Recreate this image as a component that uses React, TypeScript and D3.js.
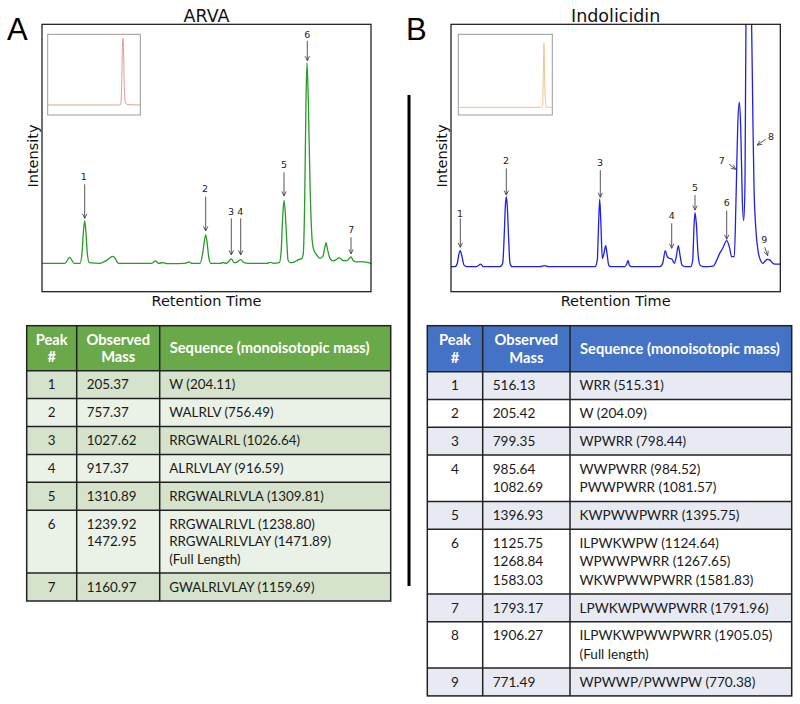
import React from 'react';
import * as d3 from 'd3';

type Pt = [number, number];

// ARVA chromatogram: [retention time, relative intensity]
const arvaTrace: Pt[] = [
  [0, 0], [2.3, 0], [2.77, 3], [3.2, 0], [3.8, 0], [4.0, 5], [4.13, 15], [4.27, 21.3], [4.4, 15], [4.53, 5],
  [4.73, 0.3], [5.8, 0], [6.53, 1.7], [7.07, 3.5], [7.33, 2.5], [7.63, 0], [10.97, 0], [11.37, 1.2], [11.63, 0],
  [12.13, 0.3], [12.47, -0.2], [14.3, 0], [14.7, 0.7], [14.97, 0], [15.8, 0], [16.07, 5], [16.23, 10.8],
  [16.37, 14.2], [16.5, 10.8], [16.67, 3.3], [16.87, 0], [17.8, 0], [18.13, 0.3], [18.47, 0], [18.93, 2.2],
  [19.23, 0.3], [19.47, 0.5], [19.87, 1.8], [20.2, 0.3], [20.63, 0], [22.47, 0], [22.87, 0.5], [23.13, 0],
  [23.73, 0.3], [23.9, 5], [24.07, 23.3], [24.2, 31.5], [24.33, 25], [24.47, 11.7], [24.6, 1.7], [24.8, 0.3],
  [25.13, 0.5], [25.47, 1.3], [25.7, 2], [25.97, 2.3], [26.13, 5], [26.27, 31.7], [26.4, 81.7], [26.5, 100.3],
  [26.63, 81.7], [26.8, 40], [26.97, 15], [27.13, 7.5], [27.47, 4.2], [27.8, 2.5], [28.07, 3.3], [28.3, 8.3],
  [28.4, 10.3], [28.53, 7.5], [28.8, 2.5], [29.13, 1.2], [29.47, 2], [29.73, 2.8], [30.13, 1.3], [30.47, 1.3],
  [30.9, 3.2], [31.13, 1.3], [31.47, 0.7], [31.8, 0.8], [32.47, 0.5], [32.9, 0],
];
const arvaInset: Pt[] = [
  [0, 0], [76.3, 0], [78.8, 1], [79.9, 32.5], [80.6, 82.5], [81.3, 100], [82, 77.5], [82.7, 27.5], [83.8, 5],
  [85.9, 0.5], [100, 0],
];
// label centre (lx, ly), arrow from (x1, y1) to (x2, y2)
const arvaLabels = [
  { id: '1', lx: 4.17, ly: 43.3, x1: 4.27, y1: 39.5, x2: 4.27, y2: 22.5 },
  { id: '2', lx: 16.3, ly: 37.2, x1: 16.37, y1: 33.3, x2: 16.37, y2: 16.2 },
  { id: '3', lx: 18.9, ly: 25.7, x1: 18.93, y1: 22.5, x2: 18.93, y2: 4.2 },
  { id: '4', lx: 19.83, ly: 25.7, x1: 19.87, y1: 22.5, x2: 19.87, y2: 4.2 },
  { id: '5', lx: 24.2, ly: 49.3, x1: 24.2, y1: 45.5, x2: 24.2, y2: 33.7 },
  { id: '6', lx: 26.53, ly: 114.2, x1: 26.53, y1: 111.3, x2: 26.53, y2: 101.3 },
  { id: '7', lx: 30.93, ly: 17, x1: 30.9, y1: 13, x2: 30.9, y2: 4.7 },
];

// Indolicidin chromatogram
const indoTrace: Pt[] = [
  [0, 0], [0.4, 0], [0.63, 1.7], [0.77, 5.8], [0.93, 8], [1.1, 5], [1.3, 0.8], [1.57, 0], [2.57, 0], [2.97, 1.3],
  [3.23, 0], [4.9, 0], [5.17, 1.7], [5.33, 16.7], [5.43, 30], [5.53, 35], [5.63, 30], [5.77, 13.3], [5.9, 1.7],
  [6.1, 0], [8.9, 0], [9.37, 0.5], [9.73, 0], [14.4, 0], [14.63, 3.3], [14.73, 16.7], [14.87, 33.8], [15, 20],
  [15.13, 4.2], [15.3, 6.7], [15.47, 10.5], [15.6, 6.7], [15.77, 0.8], [15.97, 0], [17.4, 0], [17.57, 1.3],
  [17.7, 3.2], [17.83, 0.8], [18.07, 0], [20.9, 0], [21.17, 1.7], [21.43, 8], [21.63, 5], [21.83, 4.2],
  [22.1, 3.7], [22.33, 1.7], [22.53, 5], [22.73, 10.5], [22.9, 5.8], [23.1, 0.8], [23.4, 0], [23.97, 0],
  [24.17, 3.3], [24.3, 20], [24.4, 27], [24.53, 21.7], [24.7, 6.7], [24.9, 0.8], [25.23, 0], [26.23, 0.3],
  [26.57, 3.3], [26.83, 6.3], [27.17, 9.2], [27.57, 13], [27.83, 10], [28.07, 5], [28.33, 5], [28.5, 33.3],
  [28.67, 70], [28.83, 82.3], [28.97, 70], [29.13, 33.3], [29.27, 23], [29.4, 41.7], [29.5, 125], [29.77, 165],
  [30.05, 125], [30.2, 70], [30.3, 40], [30.47, 20], [30.7, 8], [30.97, 3], [31.17, 1.7], [31.4, 2.8],
  [31.63, 3.7], [31.9, 3.3], [32.17, 1.7], [32.4, 1.3], [32.93, 1.3],
];
const indoInset: Pt[] = [
  [0, 0], [87.2, 0], [89.7, 2], [90.4, 50], [91.1, 100], [91.8, 50], [92.9, 5], [94, 0], [100, 0],
];
const indoLabels = [
  { id: '1', lx: 0.9, ly: 26.5, x1: 0.93, y1: 24.2, x2: 0.93, y2: 9.7 },
  { id: '2', lx: 5.5, ly: 53.2, x1: 5.53, y1: 49.2, x2: 5.53, y2: 35.8 },
  { id: '3', lx: 14.9, ly: 52.2, x1: 14.93, y1: 48.3, x2: 14.93, y2: 34.7 },
  { id: '4', lx: 22.07, ly: 25.7, x1: 22.07, y1: 21.7, x2: 22.07, y2: 9.2 },
  { id: '5', lx: 24.4, ly: 39.8, x1: 24.4, y1: 35.8, x2: 24.4, y2: 28.3 },
  { id: '6', lx: 27.57, ly: 32.2, x1: 27.57, y1: 28, x2: 27.57, y2: 13.7 },
  { id: '7', lx: 27.07, ly: 53, x1: 27.83, y1: 51.2, x2: 28.47, y2: 48.7 },
  { id: '8', lx: 32, ly: 65, x1: 31.47, y1: 63.7, x2: 30.63, y2: 60.8 },
  { id: '9', lx: 31.33, ly: 13.7, x1: 31.37, y1: 9.7, x2: 31.67, y2: 5.5 },
];

// Tables
const arvaPeaks = ['1', '2', '3', '4', '5', '6', '7'];
const arvaMasses = [['205.37'], ['757.37'], ['1027.62'], ['917.37'], ['1310.89'], ['1239.92', '1472.95'], ['1160.97']];
const arvaSeqs = [
  ['W (204.11)'], ['WALRLV (756.49)'], ['RRGWALRL (1026.64)'], ['ALRLVLAY (916.59)'], ['RRGWALRLVLA (1309.81)'],
  ['RRGWALRLVL (1238.80)', 'RRGWALRLVLAY (1471.89)', '(Full Length)'], ['GWALRLVLAY (1159.69)'],
];
const indoPeaks = ['1', '2', '3', '4', '5', '6', '7', '8', '9'];
const indoMasses = [
  ['516.13'], ['205.42'], ['799.35'], ['985.64', '1082.69'], ['1396.93'], ['1125.75', '1268.84', '1583.03'],
  ['1793.17'], ['1906.27'], ['771.49'],
];
const indoSeqs = [
  ['WRR (515.31)'], ['W (204.09)'], ['WPWRR (798.44)'], ['WWPWRR (984.52)', 'PWWPWRR (1081.57)'],
  ['KWPWWPWRR (1395.75)'], ['ILPWKWPW (1124.64)', 'WPWWPWRR (1267.65)', 'WKWPWWPWRR (1581.83)'],
  ['LPWKWPWWPWRR (1791.96)'], ['ILPWKWPWWPWRR (1905.05)', '(Full length)'], ['WPWWP/PWWPW (770.38)'],
];
const headers = ['Peak', '#', 'Observed', 'Mass', 'Sequence (monoisotopic mass)'];

const SANS = 'DejaVu Sans, sans-serif';
const TABLE_FONT = 'Lato, sans-serif';

type Label = { id: string; lx: number; ly: number; x1: number; y1: number; x2: number; y2: number };

function Chromatogram(props: {
  id: string; letter: string; letterX: number; title: string; frame: [number, number, number, number];
  xDomain: [number, number]; yDomain: [number, number]; trace: Pt[]; color: string; labels: Label[];
  insetFrame: [number, number, number, number]; insetY: [number, number]; inset: Pt[]; insetColor: string;
  ylabelX: number;
}) {
  const [fx0, fx1, fy0, fy1] = props.frame;
  const x = d3.scaleLinear().domain(props.xDomain).range([fx0, fx1]);
  const y = d3.scaleLinear().domain(props.yDomain).range([fy1, fy0]);
  const line = d3.line<Pt>().x(d => x(d[0])).y(d => y(d[1])).curve(d3.curveMonotoneX);

  const [ix0, ix1, iy0, iy1] = props.insetFrame;
  const ix = d3.scaleLinear().domain([0, 100]).range([ix0, ix1]);
  const iy = d3.scaleLinear().domain(props.insetY).range([iy1, iy0]);
  const iline = d3.line<Pt>().x(d => ix(d[0])).y(d => iy(d[1])).curve(d3.curveMonotoneX);
  const cx = (fx0 + fx1) / 2;

  return (
    <g>
      <text x={props.letterX} y={40} fontFamily="Liberation Sans, Arial, sans-serif" fontSize={31} fill="#000">{props.letter}</text>
      <text x={cx} y={22.3} textAnchor="middle" fontFamily={SANS} fontSize={17.5} fill="#111">{props.title}</text>
      <clipPath id={props.id}><rect x={fx0} y={fy0} width={fx1 - fx0} height={fy1 - fy0} /></clipPath>
      <path d={line(props.trace) || ''} fill="none" stroke={props.color} strokeWidth={1.3} clipPath={`url(#${props.id})`} />
      <rect x={fx0} y={fy0} width={fx1 - fx0} height={fy1 - fy0} fill="none" stroke="#111" strokeWidth={1.2} />
      <rect x={ix0} y={iy0} width={ix1 - ix0} height={iy1 - iy0} fill="none" stroke="#999" strokeWidth={1} />
      <path d={iline(props.inset) || ''} fill="none" stroke={props.insetColor} strokeWidth={1} />
      {props.labels.map(l => {
        const ax1 = x(l.x1), ay1 = y(l.y1), ax2 = x(l.x2), ay2 = y(l.y2);
        const ang = Math.atan2(ay2 - ay1, ax2 - ax1);
        const hl = 5, ha = 0.45;
        const h1 = [ax2 - hl * Math.cos(ang - ha), ay2 - hl * Math.sin(ang - ha)];
        const h2 = [ax2 - hl * Math.cos(ang + ha), ay2 - hl * Math.sin(ang + ha)];
        return (
          <g key={l.id}>
            <line x1={ax1} y1={ay1} x2={ax2} y2={ay2} stroke="#444" strokeWidth={0.9} />
            <path d={`M${h1[0]},${h1[1]}L${ax2},${ay2}L${h2[0]},${h2[1]}`} fill="none" stroke="#444" strokeWidth={0.9} />
            <text x={x(l.lx)} y={y(l.ly)} dy="0.36em" textAnchor="middle" fontFamily={SANS} fontSize={9.5} fill="#222">{l.id}</text>
          </g>
        );
      })}
      <text transform={`translate(${props.ylabelX},${(fy0 + fy1) / 2 - 2}) rotate(-90)`} textAnchor="middle"
        fontFamily={SANS} fontSize={14.5} fill="#111">Intensity</text>
      <text x={cx} y={306} textAnchor="middle" fontFamily={SANS} fontSize={14.5} fill="#111">Retention Time</text>
    </g>
  );
}

function PeakTable(props: {
  cols: number[]; top: number; headH: number; rowH: number; lineH: number;
  peaks: string[]; masses: string[][]; seqs: string[][];
  headFill: string; bandFill: string; plainFill: string; fontSize: number; headSize: number;
}) {
  const { cols, top, headH, rowH, lineH } = props;
  const nLines = props.peaks.map((_, i) => Math.max(props.masses[i].length, props.seqs[i].length));
  const tops: number[] = [];
  let acc = top + headH;
  nLines.forEach(n => { tops.push(acc); acc += rowH + (n - 1) * lineH; });
  const bottom = acc;
  const left = cols[0], right = cols[3];
  const hc = top + headH / 2;
  return (
    <g fontFamily={TABLE_FONT}>
      <rect x={left} y={top} width={right - left} height={headH} fill={props.headFill} />
      {props.peaks.map((p, i) => (
        <rect key={p} x={left} y={tops[i]} width={right - left} height={rowH + (nLines[i] - 1) * lineH}
          fill={i % 2 === 0 ? props.bandFill : props.plainFill} />
      ))}
      <g fill="#fff" fontWeight={700} fontSize={props.headSize}>
        <text x={(cols[0] + cols[1]) / 2} y={hc - 8.7} dy="0.35em" textAnchor="middle">{headers[0]}</text>
        <text x={(cols[0] + cols[1]) / 2} y={hc + 8.7} dy="0.35em" textAnchor="middle">{headers[1]}</text>
        <text x={(cols[1] + cols[2]) / 2} y={hc - 8.7} dy="0.35em" textAnchor="middle">{headers[2]}</text>
        <text x={(cols[1] + cols[2]) / 2} y={hc + 8.7} dy="0.35em" textAnchor="middle">{headers[3]}</text>
        <text x={cols[2] + 10} y={hc} dy="0.35em">{headers[4]}</text>
      </g>
      <g fill="#1a1a1a" fontSize={props.fontSize}>
        {props.peaks.map((p, i) => (
          <g key={p}>
            <text x={(cols[0] + cols[1]) / 2} y={tops[i] + rowH / 2} dy="0.35em" textAnchor="middle">{p}</text>
            {props.masses[i].map((m, j) => (
              <text key={j} x={cols[1] + 10} y={tops[i] + rowH / 2 + j * lineH} dy="0.35em">{m}</text>
            ))}
            {props.seqs[i].map((s, j) => (
              <text key={j} x={cols[2] + 9.5} y={tops[i] + rowH / 2 + j * lineH} dy="0.35em">{s}</text>
            ))}
          </g>
        ))}
      </g>
      <g stroke="#222" strokeWidth={1.5}>
        {tops.map((t, i) => <line key={i} x1={left} x2={right} y1={t} y2={t} />)}
        <line x1={cols[1]} x2={cols[1]} y1={top} y2={bottom} />
        <line x1={cols[2]} x2={cols[2]} y1={top} y2={bottom} />
        <rect x={left} y={top} width={right - left} height={bottom - top} fill="none" />
      </g>
    </g>
  );
}

export default function App() {
  return (
    <div style={{ width: 800, height: 704 }}>
      <style>{'body{margin:0}'}</style>
      <svg width={800} height={704} style={{ display: 'block', background: '#fff' }}>
        <Chromatogram id="clipA" letter="A" letterX={7} title="ARVA" frame={[42, 371, 24.3, 291.7]}
          xDomain={[0, 32.9]} yDomain={[-14.2, 119.5]} trace={arvaTrace} color="#2a9a2a" labels={arvaLabels}
          insetFrame={[47.7, 140.3, 34.3, 115]} insetY={[-15, 106]} inset={arvaInset} insetColor="#dc9c9c"
          ylabelX={38} />
        <Chromatogram id="clipB" letter="B" letterX={406} title="Indolicidin" frame={[451, 780.3, 24.3, 291.7]}
          xDomain={[0, 32.93]} yDomain={[-12.5, 121.2]} trace={indoTrace} color="#1f1fe8" labels={indoLabels}
          insetFrame={[458.3, 552.3, 34.3, 115]} insetY={[-12, 114]} inset={indoInset} insetColor="#f3c08c"
          ylabelX={447} />
        <line x1={409} x2={409} y1={95} y2={586} stroke="#000" strokeWidth={3} />
        <PeakTable cols={[26.7, 76.7, 159.7, 390.7]} top={325.7} headH={45} rowH={27.9} lineH={17.5}
          peaks={arvaPeaks} masses={arvaMasses} seqs={arvaSeqs} headFill="#6aa94a" bandFill="#d5e3cd"
          plainFill="#eaf1e6" fontSize={13.4} headSize={14.7} />
        <PeakTable cols={[427.3, 482.7, 570, 791.7]} top={325.7} headH={46} rowH={27.8} lineH={18.5}
          peaks={indoPeaks} masses={indoMasses} seqs={indoSeqs} headFill="#4472c4" bandFill="#e8eaf3"
          plainFill="#ffffff" fontSize={13.6} headSize={14.7} />
      </svg>
    </div>
  );
}
